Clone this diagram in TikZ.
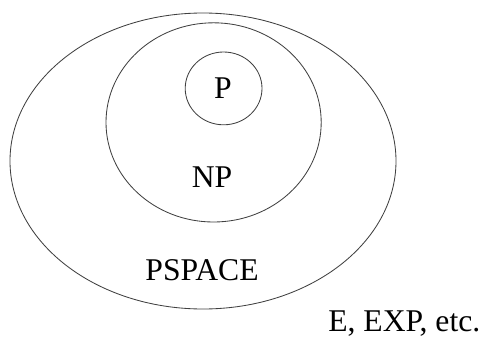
\documentclass[tikz,border=0pt]{standalone}
\usepackage{fontspec}
\setmainfont{Liberation Serif}
\usepackage{tikz}
\usetikzlibrary{positioning}
\tikzset{
  classline/.style={draw=black!75, line width=0.6pt},
  classlabel/.style={font=\fontsize{22.5}{27}\selectfont, inner sep=0pt}
}

\begin{document}
\begin{tikzpicture}
  \useasboundingbox (0,0) rectangle (12.15,8.45);
  % nested classes
  \draw[classline] (5.075,4.425) ellipse (4.825 and 3.7);
  \draw[classline] (5.34,5.39) ellipse (2.69 and 2.49);
  \draw[classline] (5.59,6.24) ellipse (0.96 and 0.91);
  % labels
  \node[classlabel] (p) at (5.575,6.25) {P};
  \node[classlabel] (np) at (5.3,4.025) {NP};
  \node[classlabel] (pspace) at (5.05,1.7) {PSPACE};
  \node[classlabel, anchor=base west] (exp) at (8.2,0.16) {E, EXP, etc.};
\end{tikzpicture}
\end{document}
